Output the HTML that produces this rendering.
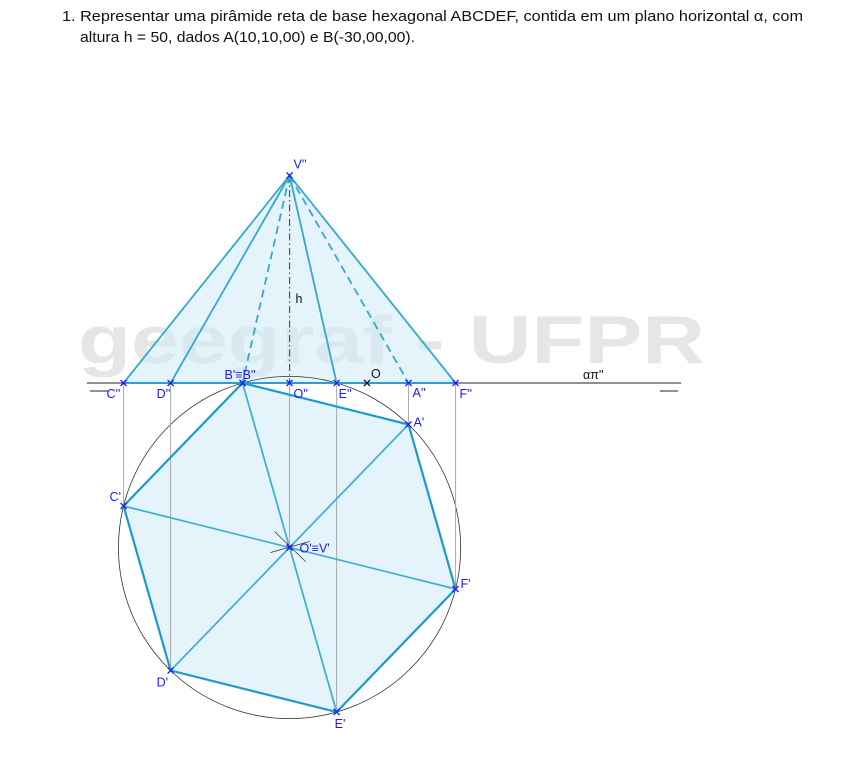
<!DOCTYPE html>
<html><head><meta charset="utf-8"><style>
body{margin:0;background:#fff;width:866px;height:758px;overflow:hidden}
svg{position:absolute;left:0;top:0}
.t{font-family:"Liberation Sans",sans-serif;font-size:12.5px;fill:#1a1aff}
</style></head><body>
<svg id="s" width="866" height="758">
<text x="62" y="21" textLength="741" lengthAdjust="spacingAndGlyphs" style="font-family:'Liberation Sans',sans-serif;font-size:15px;fill:#111">1. Representar uma pirâmide reta de base hexagonal ABCDEF, contida em um plano horizontal α, com</text>
<text x="80" y="42" textLength="335" lengthAdjust="spacingAndGlyphs" style="font-family:'Liberation Sans',sans-serif;font-size:15px;fill:#111">altura h = 50, dados A(10,10,00) e B(-30,00,00).</text>
<text x="78" y="363" textLength="627" lengthAdjust="spacingAndGlyphs" style="font-family:'Liberation Sans',sans-serif;font-size:68px;font-weight:bold;fill:#e6e6e6">geegraf - UFPR</text>
<g id="g"></g>
</svg>
<script>
const pointA=[10,10];
const pointB=[-30,0];
const height=[50];
const labels=["A","B","C","D","E","F"];
const k=4.15, ox=367, gy=383;
function X(x){return ox+k*x}
function PY(y){return gy+k*y}
function EY(z){return gy-k*z}
const NS="http://www.w3.org/2000/svg";
const g=document.getElementById('g');
function el(t,a,name){const e=document.createElementNS(NS,t);for(const q in a)e.setAttribute(q,a[q]);


g.appendChild(e);return e}
const mx=(pointA[0]+pointB[0])/2,my=(pointA[1]+pointB[1])/2;
const dx=pointB[0]-pointA[0],dy=pointB[1]-pointA[1],L=Math.hypot(dx,dy);
const hh=L*Math.sqrt(3)/2;
let nx=-dy/L,ny=dx/L; if(ny<0){nx=-nx;ny=-ny}
const cx=mx+nx*hh,cy=my+ny*hh;
const a0=Math.atan2(pointA[1]-cy,pointA[0]-cx),a1=Math.atan2(pointB[1]-cy,pointB[0]-cx);
let step=a1-a0; while(step>Math.PI)step-=2*Math.PI; while(step<-Math.PI)step+=2*Math.PI;
const V=[];for(let i=0;i<6;i++){const a=a0+step*i;V.push([cx+L*Math.cos(a),cy+L*Math.sin(a)])}
const P=V.map(v=>[X(v[0]),PY(v[1])]);
const C=[X(cx),PY(cy)];
const vz=EY(height[0]);
const xs=P.map(p=>p[0]);const xmin=Math.min(...xs),xmax=Math.max(...xs);
el('polygon',{points:`${xmin},${gy} ${C[0]},${vz} ${xmax},${gy}`,fill:'#cfeaf5','fill-opacity':0.55},'front-view-fill');
el('polygon',{points:P.map(p=>p.join(',')).join(' '),fill:'#cfeaf5','fill-opacity':0.55},'plan-hexagon-fill');
el('circle',{cx:C[0],cy:C[1],r:L*k,fill:'none',stroke:'#333','stroke-width':0.8},'circumscribed-circle');
P.forEach((p,i)=>el('line',{x1:p[0],y1:gy,x2:p[0],y2:p[1],stroke:'#aaa','stroke-width':1},'projection-line-'+labels[i].toLowerCase()));
el('line',{x1:C[0],y1:gy,x2:C[0],y2:C[1],stroke:'#aaa','stroke-width':1},'projection-line-o');
el('line',{x1:C[0],y1:vz,x2:C[0],y2:gy,stroke:'#555','stroke-width':1.2,'stroke-dasharray':'7,3,1.5,3'},'height-axis');
el('line',{x1:87,y1:gy,x2:681,y2:gy,stroke:'#222','stroke-width':1},'ground-line');
el('line',{x1:90,y1:391,x2:108,y2:391,stroke:'#222','stroke-width':1},'ground-mark-left');
el('line',{x1:660,y1:391,x2:678,y2:391,stroke:'#222','stroke-width':1},'ground-mark-right');
el('line',{x1:xmin,y1:gy,x2:xmax,y2:gy,stroke:'#2a9fcc','stroke-width':2},'base-front-edge');
V.forEach((v,i)=>{const sil=Math.abs(P[i][0]-xmin)<1||Math.abs(P[i][0]-xmax)<1;
 const vis=v[1]>=cy-0.01 || sil;
 const a={x1:C[0],y1:vz,x2:P[i][0],y2:gy,stroke:'#33a9d1','stroke-width':1.8};
 if(!vis)a['stroke-dasharray']='8,5';
 el('line',a,'lateral-edge-'+labels[i].toLowerCase());});
for(let i=0;i<3;i++)el('line',{x1:P[i][0],y1:P[i][1],x2:P[i+3][0],y2:P[i+3][1],stroke:'#44b0d6','stroke-width':1.8},'plan-edge-'+i);
el('polygon',{points:P.map(p=>p.join(',')).join(' '),fill:'none',stroke:'#1b9bcb','stroke-width':2.2},'plan-hexagon');
el('line',{x1:C[0]-15,y1:C[1]-16,x2:C[0]+16,y2:C[1]+14,stroke:'#333','stroke-width':0.7},'construction-mark-1');
el('line',{x1:C[0]-19,y1:C[1]+5,x2:C[0]+20,y2:C[1]-6,stroke:'#333','stroke-width':0.7},'construction-mark-2');
function mark(x,y,col,name){el('path',{d:`M${x-3},${y-3}L${x+3},${y+3}M${x-3},${y+3}L${x+3},${y-3}`,stroke:col,'stroke-width':1.3},name)}
function lab(x,y,s,name,col){const t=el('text',{x:x,y:y,class:'t'},name);if(col)t.style.fill=col;t.textContent=s}
const fl={A:[4,14],B:[-18,-4],C:[-17,15],D:[-14,15],E:[2,15],F:[4,15]};
P.forEach((p,i)=>{mark(p[0],gy,'#1a1aff','front-point-'+labels[i].toLowerCase());
 const o=fl[labels[i]];lab(p[0]+o[0],gy+o[1],labels[i]==='B'?"B'≡B''":labels[i]+"''",'front-label-'+labels[i].toLowerCase());});
mark(C[0],gy,'#1a1aff','front-point-o');lab(C[0]+4,gy+15,"O''",'front-label-o');
mark(C[0],vz,'#1a1aff','apex-front');lab(C[0]+4,vz-7,"V''",'apex-label');
lab(C[0]+6,EY(height[0]*0.4)+3,"h",'height-label','#111');
mark(X(0),gy,'#111','origin-point');lab(X(0)+4,gy-5,"O",'origin-label','#111');
lab(583,379,"απ''",'plane-label','#111');
const pl={A:[5,2],B:[0,0],C:[-14,-5],D:[-14,16],E:[-2,16],F:[5,-1]};
P.forEach((p,i)=>{mark(p[0],p[1],'#1a1aff','plan-point-'+labels[i].toLowerCase());
 if(labels[i]!=='B'){const o=pl[labels[i]];lab(p[0]+o[0],p[1]+o[1],labels[i]+"'",'plan-label-'+labels[i].toLowerCase());}});
mark(C[0],C[1],'#1a1aff','plan-center');lab(C[0]+10,C[1]+5,"O'≡V'",'plan-center-label');
</script>
</body></html>
